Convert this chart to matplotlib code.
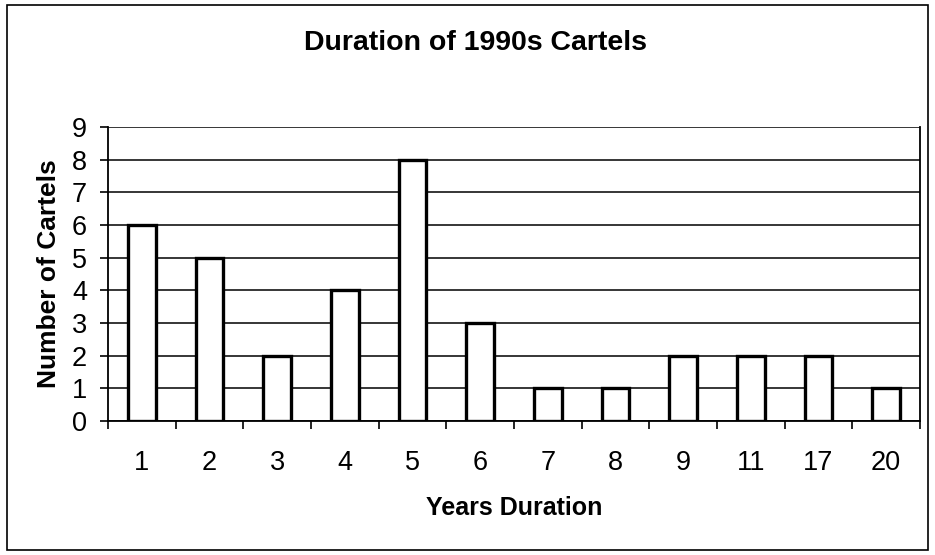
import matplotlib.pyplot as plt
from matplotlib.patches import Rectangle

# data
years = ['1', '2', '3', '4', '5', '6', '7', '8', '9', '11', '17', '20']
cartels = [6, 5, 2, 4, 8, 3, 1, 1, 2, 2, 2, 1]

plt.rcParams['font.family'] = ['Liberation Sans', 'DejaVu Sans']

fig = plt.figure(figsize=(9.35, 5.55), dpi=100)
ax = fig.add_axes([108 / 935, 1 - 421 / 555, (920 - 108) / 935, (421 - 127) / 555])

x = range(len(years))
ax.bar(x, cartels, width=0.41, color='white', edgecolor='black', linewidth=2.4, zorder=3)

ax.set_xlim(-0.5, len(years) - 0.5)
ax.set_ylim(0, 9)
ax.set_yticks(range(10))
ax.yaxis.grid(True, color='black', linewidth=1.1)
ax.set_axisbelow(True)

# ticks between categories, labels centred on bars
ax.set_xticks([i + 0.5 for i in range(-1, len(years))], minor=False)
ax.set_xticklabels([])
ax.set_xticks(list(x), minor=True)
ax.set_xticklabels(years, minor=True, fontsize=19.5)
ax.tick_params(axis='x', which='major', length=6, width=1.2, direction='out')
ax.tick_params(axis='x', which='minor', length=0, pad=21)
ax.tick_params(axis='y', labelsize=19.5, length=6, width=1.2, pad=9)

for s in ['left', 'bottom', 'right']:
    ax.spines[s].set_linewidth(1.3)
ax.spines['top'].set_visible(False)

ax.set_xlabel('Years Duration', fontsize=18, fontweight='bold', labelpad=14)
ax.set_ylabel('Number of Cartels', fontsize=19, fontweight='bold', labelpad=8)
fig.text(475 / 935, 1 - 43 / 555, 'Duration of 1990s Cartels',
         fontsize=20.5, fontweight='bold', ha='center', va='center')

# outer chart frame
fig.patches.append(Rectangle((7 / 935, 5 / 555), 921 / 935, 545 / 555, transform=fig.transFigure,
                             fill=False, edgecolor='black', linewidth=1.2))

fig.savefig('out.png', dpi=100)
